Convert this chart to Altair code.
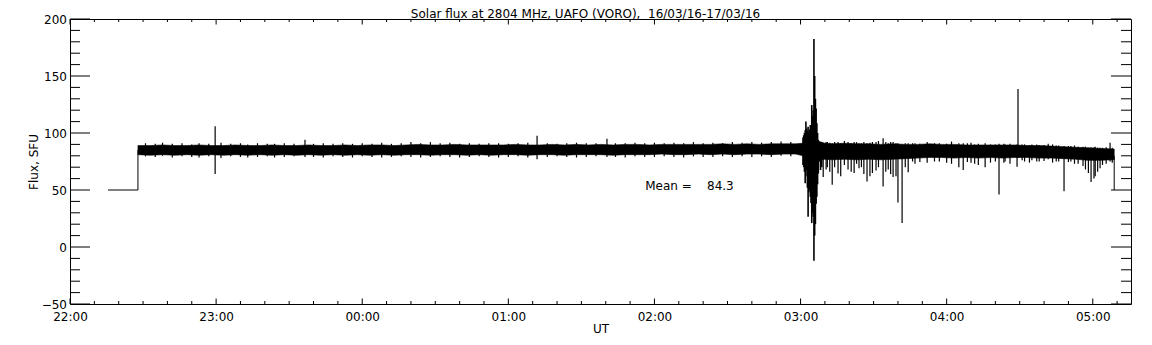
import json
import altair as alt
import pandas as pd

# ---------------- text ----------------
TITLE = "Solar flux at 2804 MHz, UAFO (VORO),\u00a0 16/03/16-17/03/16"
X_TITLE = "UT"
Y_TITLE = "Flux, SFU"
MEAN_TEXT = "Mean =" + "\u00a0" * 4 + "84.3"

# ---------------- axes (time in minutes after 22:00 UT) ----------------
X_DOMAIN = [0, 435.7]
Y_DOMAIN = [-50, 200]
x_tick_values = [0, 60, 120, 180, 240, 300, 360, 420]
x_tick_labels = ["22:00", "23:00", "00:00", "01:00", "02:00", "03:00", "04:00", "05:00"]
x_minor_values = [10, 20, 30, 40, 50, 70, 80, 90, 100, 110, 130, 140, 150, 160, 170,
                  190, 200, 210, 220, 230, 250, 260, 270, 280, 290, 310, 320, 330, 340,
                  350, 370, 380, 390, 400, 410, 430]
y_tick_values = [-50, 0, 50, 100, 150, 200]
y_minor_values = [-40, -30, -20, -10, 10, 20, 30, 40, 60, 70, 80, 90, 110, 120, 130, 140,
                  160, 170, 180, 190]

# ---------------- data ----------------
# flux band envelope (lower / upper edge of the dense noise band)
band_t = [27.9, 33, 38, 43, 48, 53, 58, 63, 68, 73, 78, 83, 88, 93, 98, 103, 108, 113, 118,
          123, 128, 133, 138, 143, 148, 153, 158, 163, 168, 173, 178, 183, 188, 193, 198, 203,
          208, 213, 218, 223, 228, 233, 238, 243, 248, 253, 258, 263, 268, 273, 278, 283, 288,
          293, 298, 301, 304, 307, 310, 313, 318, 323, 328, 333, 338, 343, 348, 353, 358, 363,
          368, 373, 378, 383, 388, 393, 398, 403, 408, 413, 418, 423, 428.8]
band_lo = [81, 80.5, 81, 80.5, 81, 80.5, 81, 80.5, 81, 80.5, 81, 80.5, 81, 80.5, 81, 80.5, 81,
           80.5, 81, 80.5, 81, 80.5, 81, 81, 80.5, 81, 81, 80.5, 81, 80.5, 81, 81, 80.5, 81, 81,
           80.5, 81, 81, 81, 80.5, 81, 81, 81, 81.5, 81, 81, 81.5, 81, 81.5, 81, 81.5, 81.5, 81,
           81.5, 81.5, 80, 75, 76, 77, 76.5, 77, 76.5, 77, 76.5, 77, 77.5, 78, 78.5, 78.5, 78,
           78.5, 78, 78.5, 78, 78.5, 78.5, 78, 78, 77.5, 77, 76, 76, 76.5]
band_hi = [89, 89, 89.5, 89, 89, 89.5, 89, 89, 89.5, 89, 89, 89.5, 89, 89, 89.5, 89, 89, 89.5,
           89, 89.5, 89.5, 89, 89.5, 90, 89.5, 89.5, 90, 89.5, 89.5, 89.5, 89.5, 90, 89.5, 89.5,
           90, 89.5, 90, 89.5, 90, 89.5, 90, 90, 89.5, 90, 90, 90, 90, 90, 90.5, 90, 90.5, 90,
           90.5, 90.5, 90.5, 91, 95, 93, 91, 90.5, 91, 90.5, 90.5, 90, 90.5, 90, 90, 90.5, 90,
           90, 89.5, 89.5, 89.5, 89.5, 89.5, 89, 89, 88.5, 88, 87.5, 87, 86.5, 86]

# small spikes on the quiet part of the record
quiet_t = [31, 35, 38, 42, 46, 50, 53, 57, 59.6, 62, 66, 70, 73, 77, 81, 84, 88, 92, 96.5,
           100, 104, 108, 112, 116, 120, 124, 128, 132, 136, 140, 144, 148, 152, 156, 160, 164,
           168, 172, 176, 180, 184, 188, 191.8, 196, 200, 204, 208, 212, 216, 220.5, 224, 228,
           232, 236, 240, 244, 248, 252, 256, 260, 264, 268, 272, 276, 280, 284, 288, 292, 296]
quiet_lo = [79.5, 79, 80, 78.5, 79.5, 79, 78.5, 79.5, 64, 78, 79.5, 79, 78.5, 79, 79.5, 78.5,
            79, 79.5, 79, 79, 78.5, 79.5, 79, 78.5, 79.5, 79, 78.5, 79, 79.5, 79, 78.5, 79,
            79.5, 79, 78.5, 79, 79.5, 79, 78.5, 79, 79.5, 78.5, 77, 79, 79.5, 79, 78.5, 79,
            79.5, 79, 79, 78.5, 79.5, 79, 79, 79.5, 79, 78.5, 79.5, 79, 79, 79.5, 79, 79.5, 79,
            79.5, 79, 80, 79.5]
quiet_hi = [91, 90.5, 91.5, 90.5, 91, 90, 91, 90.5, 106, 91.5, 90.5, 91, 90, 91, 90.5, 90.5,
            91, 90.5, 94, 90.5, 91, 90.5, 91, 90.5, 91, 90.5, 91.5, 90.5, 91, 92, 91, 92, 91,
            91.5, 90.5, 91, 90.5, 91, 91, 90.5, 91, 91.5, 97.5, 91, 90.5, 91, 91.5, 91, 91, 95,
            91, 91, 91.5, 91, 91.5, 91, 91.5, 91, 92, 91, 91.5, 91, 92, 91.5, 92, 91.5, 92,
            92.5, 92]

# the 03:00-03:09 burst
burst_t = [301.0, 301.3, 301.6, 301.9, 302.2, 302.5, 302.8, 303.1, 303.4, 303.7, 304.0, 304.3,
           304.6, 304.9, 305.2, 305.5, 305.8, 306.1, 306.4, 306.7, 307.0, 307.3, 307.7, 308.2,
           308.7]
burst_lo = [72, 70, 66, 56, 62, 67.5, 52, 26.5, 48, 50, 44, 38.5, 21, 30, 26.5, -12, 10, 20,
            38, 44, 55, 64.5, 75, 67.5, 70]
burst_hi = [96, 98, 100, 102.5, 110, 104, 102, 105.5, 100, 103, 107, 102, 124.5, 115, 120,
            182.5, 150, 130, 121.5, 108.5, 100, 94, 92, 92, 92]

# dips and spikes after the burst
after_t = [309.3, 310.5, 311, 312, 313, 314, 315.4, 316.5, 318, 319.5, 320.8, 322, 323, 324,
           325, 326, 327.3, 328.5, 329.5, 331, 332, 333.9, 335, 336, 337, 338, 339.2, 340,
           341.7, 343, 344.2, 346, 347, 349, 352, 355, 357, 360, 362, 365, 366.8, 368.5, 370,
           371.5, 373, 375.8, 378, 380, 381.5, 383.5, 384, 386, 388.9, 389.3, 391, 392, 394,
           395, 397, 398, 400, 401.7, 403.5, 405, 406, 408.2, 410, 411, 412.5, 414, 416, 417,
           418.2, 419.3, 420.5, 421, 422, 423, 424, 425.5, 427.1, 428]
after_lo = [61.5, 68, 70, 66, 54.5, 70, 64.5, 62, 72, 68, 66, 65, 73, 69, 70, 64, 57.5, 62,
            65, 67, 70, 53, 66, 68, 64, 61.5, 62, 39, 21, 70, 65.5, 75, 73, 74.5, 74, 75, 75,
            74, 73, 70, 67.5, 74.5, 74, 73, 72, 70, 74, 75, 46, 74, 75, 73, 70.5, 78, 76, 75,
            74, 76, 75, 75, 75.5, 77, 74, 75, 75, 49, 74.5, 75, 73, 73, 71, 68, 65, 57, 60, 62,
            66, 69, 72, 73, 75, 74]
after_hi = [91, 92, 92, 91.5, 91, 92, 92, 91, 93, 92, 91, 92, 92, 91, 91, 92, 91, 91.5, 92,
            92, 93, 95.5, 92, 91, 92, 92, 91, 91, 90, 91, 91, 91, 91, 90.5, 92, 91, 91, 90.5,
            92.5, 91, 91, 91, 91.5, 90, 90.5, 91, 90, 90, 90.5, 90.5, 90, 90.5, 90, 138.5, 90,
            90, 89.5, 90, 90, 89.5, 89.5, 90.5, 90, 89, 89, 88.5, 88.5, 88.5, 89, 88, 88, 88,
            87, 87.5, 87.5, 88, 87, 87, 87, 87.5, 91.5, 87]

# pre-observation level, step up, and final drop
step_seg = ["start", "start", "start", "end", "end"]
step_t = [15.6, 27.9, 27.9, 428.8, 428.8]
step_v = [50, 50, 85, 80, 50]

MEAN_T = 236.2
MEAN_V = 50

# ---------------- layout ----------------
W, H = 1061, 285
TICK_Y_MAJOR, TICK_Y_MINOR = 20, 10
TICK_X_MAJOR, TICK_X_MINOR = 5.5, 3
FONT = "DejaVu Sans"

band_df = pd.DataFrame({"t": band_t, "lo": band_lo, "hi": band_hi})
spike_df = pd.DataFrame({"t": quiet_t + after_t, "lo": quiet_lo + after_lo,
                         "hi": quiet_hi + after_hi})
burst_df = pd.DataFrame({"t": burst_t, "lo": burst_lo, "hi": burst_hi})
step_df = pd.DataFrame({"seg": step_seg, "t": step_t, "v": step_v,
                        "i": list(range(len(step_t)))})

xs = alt.Scale(domain=X_DOMAIN, nice=False, zero=False)
ys = alt.Scale(domain=Y_DOMAIN, nice=False, zero=False)

label_expr = json.dumps(x_tick_labels) + "[round(datum.value/60)]"
x_axis = alt.Axis(values=x_tick_values, labelExpr=label_expr, ticks=False, tickSize=0,
                  domain=False, grid=False, title=X_TITLE, labelPadding=7, titlePadding=1,
                  labelFlush=False, labelOverlap=False)
y_axis = alt.Axis(values=y_tick_values, format="d", ticks=False, tickSize=0, domain=False,
                  grid=False, title=Y_TITLE, labelPadding=3.5, titlePadding=1,
                  labelFlush=False, labelOverlap=False)

band = alt.Chart(band_df).mark_area(color="black", opacity=1, stroke="black",
                                    strokeWidth=0.6).encode(
    x=alt.X("t:Q", scale=xs, axis=x_axis),
    y=alt.Y("lo:Q", scale=ys, axis=y_axis),
    y2="hi:Q",
)

spikes = alt.Chart(spike_df).mark_rule(color="black", strokeWidth=1.2).encode(
    x=alt.X("t:Q", scale=xs), y=alt.Y("lo:Q", scale=ys), y2="hi:Q"
)

burst = alt.Chart(burst_df).mark_rule(color="black", strokeWidth=1.6).encode(
    x=alt.X("t:Q", scale=xs), y=alt.Y("lo:Q", scale=ys), y2="hi:Q"
)

steps = alt.Chart(step_df).mark_line(color="black", strokeWidth=1).encode(
    x=alt.X("t:Q", scale=xs), y=alt.Y("v:Q", scale=ys), detail="seg:N", order="i:Q"
)


def yticks(vals, length):
    d = pd.DataFrame({"v": vals})
    left = alt.Chart(d).mark_rule(color="black", strokeWidth=1).encode(
        y=alt.Y("v:Q", scale=ys), x=alt.value(0), x2=alt.value(length))
    right = alt.Chart(d).mark_rule(color="black", strokeWidth=1).encode(
        y=alt.Y("v:Q", scale=ys), x=alt.value(W - length), x2=alt.value(W))
    return [left, right]


def xticks(vals, length):
    d = pd.DataFrame({"t": vals})
    bottom = alt.Chart(d).mark_rule(color="black", strokeWidth=1).encode(
        x=alt.X("t:Q", scale=xs), y=alt.value(H), y2=alt.value(H - length))
    top = alt.Chart(d).mark_rule(color="black", strokeWidth=1).encode(
        x=alt.X("t:Q", scale=xs), y=alt.value(0), y2=alt.value(length))
    return [bottom, top]


mean_df = pd.DataFrame({"t": [MEAN_T], "v": [MEAN_V], "label": [MEAN_TEXT]})
mean_text = alt.Chart(mean_df).mark_text(align="left", baseline="alphabetic", font=FONT,
                                         fontSize=12, color="black").encode(
    x=alt.X("t:Q", scale=xs), y=alt.Y("v:Q", scale=ys), text="label:N")

title_df = pd.DataFrame({"label": [TITLE]})
title_text = alt.Chart(title_df).mark_text(align="center", baseline="alphabetic", font=FONT,
                                           fontSize=12, color="black").encode(
    x=alt.value(W / 2 - 15), y=alt.value(-1.2), text="label:N")

layers = [band, spikes, burst, steps]
layers += yticks(y_tick_values, TICK_Y_MAJOR) + yticks(y_minor_values, TICK_Y_MINOR)
layers += xticks(x_tick_values, TICK_X_MAJOR) + xticks(x_minor_values, TICK_X_MINOR)
layers += [mean_text, title_text]

chart = alt.layer(*layers).properties(
    width=W, height=H,
    autosize=alt.AutoSizeParams(type="none"),
    padding={"left": 62, "top": 11, "right": 12, "bottom": 30},
    background="white",
).configure_view(stroke="black", strokeWidth=1).configure_axis(
    labelFont=FONT, labelFontSize=12, labelColor="black",
    titleFont=FONT, titleFontSize=12, titleFontWeight="normal", titleColor="black",
)

chart.save("out.html", embed_options={"renderer": "svg", "actions": False})
